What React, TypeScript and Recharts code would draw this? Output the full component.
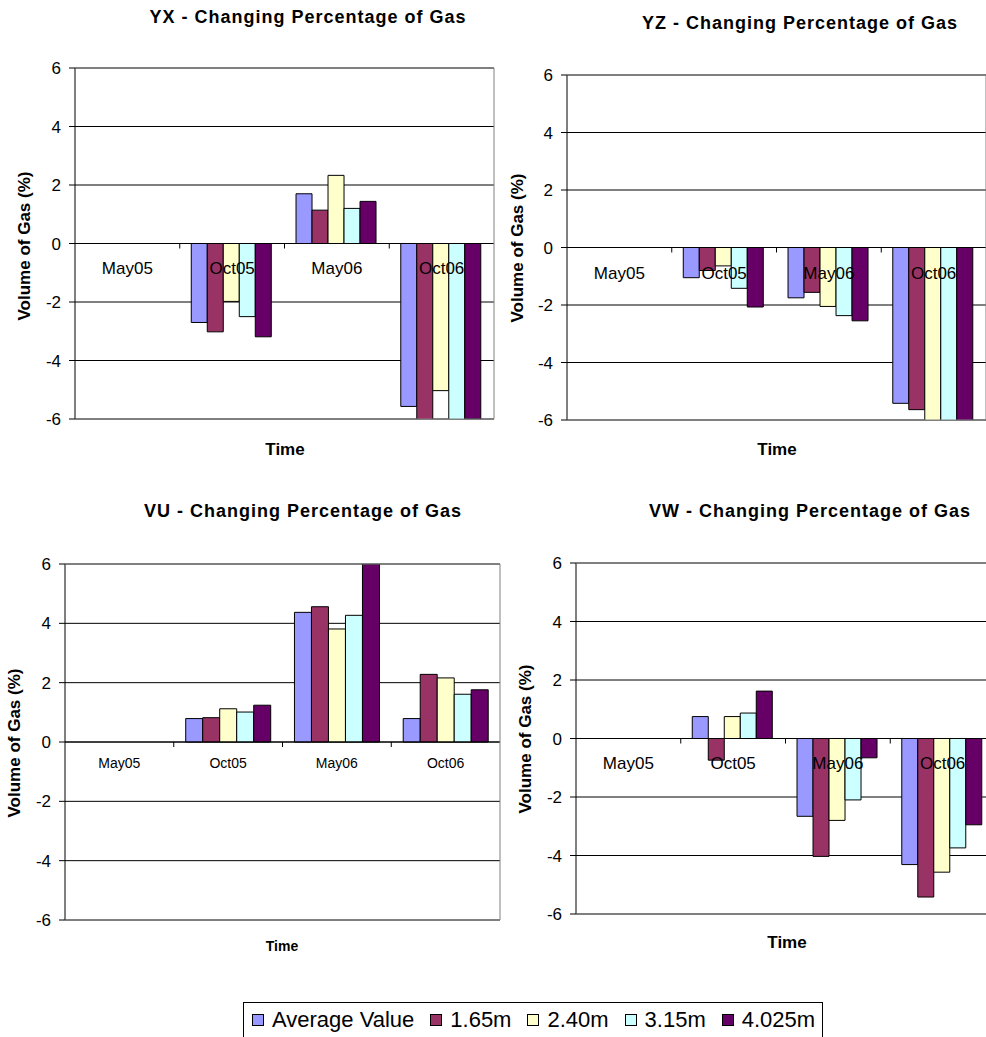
import React from 'react';
import { BarChart, Bar, XAxis, YAxis, CartesianGrid, ReferenceLine } from 'recharts';

const categories = ['May05', 'Oct05', 'May06', 'Oct06'];
const seriesNames = ['Average Value', '1.65m', '2.40m', '3.15m', '4.025m'];
const seriesKeys = ['avg', 'd165', 'd240', 'd315', 'd4025'];
const seriesColors = ['#9999FF', '#993366', '#FFFFCC', '#CCFFFF', '#660066'];
const yTicks = [-6, -4, -2, 0, 2, 4, 6];
const yDomain: [number, number] = [-6, 6];

// YX
const yxAverage = [null, -2.7, 1.7, -5.57];
const yx165 = [null, -3.02, 1.14, -6.2];
const yx240 = [null, -1.98, 2.33, -5.03];
const yx315 = [null, -2.5, 1.2, -6.2];
const yx4025 = [null, -3.19, 1.44, -6.0];

// YZ
const yzAverage = [null, -1.05, -1.75, -5.42];
const yz165 = [null, -0.8, -1.56, -5.64];
const yz240 = [null, -0.64, -2.05, -6.2];
const yz315 = [null, -1.42, -2.37, -6.2];
const yz4025 = [null, -2.07, -2.55, -6.2];

// VU
const vuAverage = [null, 0.79, 4.37, 0.79];
const vu165 = [null, 0.82, 4.56, 2.28];
const vu240 = [null, 1.12, 3.81, 2.16];
const vu315 = [null, 1.01, 4.27, 1.61];
const vu4025 = [null, 1.24, 6.0, 1.76];

// VW
const vwAverage = [null, 0.75, -2.66, -4.31];
const vw165 = [null, -0.74, -4.03, -5.42];
const vw240 = [null, 0.75, -2.8, -4.57];
const vw315 = [null, 0.87, -2.1, -3.74];
const vw4025 = [null, 1.62, -0.66, -2.95];

const FONT = '"Liberation Sans", Arial, Helvetica, sans-serif';

function buildData(series: (number | null)[][]) {
  return categories.map((c, i) => {
    const row: any = { category: c };
    seriesKeys.forEach((k, s) => {
      row[k] = series[s][i];
    });
    return row;
  });
}

type PanelProps = {
  title: string;
  series: (number | null)[][];
  plot: { l: number; t: number; r: number; b: number };
  titlePos: { x: number; y: number };
  yTitlePos: { x: number; y: number };
  timePos: { x: number; y: number };
  catOffset: number;
  catFont: number;
  timeFont: number;
};

const PAD = 15;
const YAXIS_W = 70;
const AX = 1; // thickness reserved by border axes

function CategoryTick(props: any) {
  const { x, payload, index, zeroY, band, offset, fontSize } = props;
  return (
    <g>
      <text
        x={x}
        y={zeroY + offset}
        textAnchor="middle"
        dominantBaseline="central"
        fontSize={fontSize}
        fill="#000"
        fontFamily={FONT}
      >
        {payload.value}
      </text>
      {index > 0 && (
        <line x1={x - band / 2} x2={x - band / 2} y1={zeroY} y2={zeroY + 5} stroke="#000" strokeWidth={1} />
      )}
    </g>
  );
}

function Panel(p: PanelProps) {
  const data = buildData(p.series);
  const chartLeft = p.plot.l - YAXIS_W;
  const chartTop = p.plot.t - PAD - AX;
  const width = p.plot.r + PAD + AX - chartLeft;
  const height = p.plot.b + PAD + AX - chartTop;
  const plotH = p.plot.b - p.plot.t;
  const plotW = p.plot.r - p.plot.l;
  const zeroY = PAD + AX + (plotH * (yDomain[1] - 0)) / (yDomain[1] - yDomain[0]);
  const band = plotW / categories.length;
  return (
    <>
      <div
        style={{
          position: 'absolute',
          left: p.titlePos.x,
          top: p.titlePos.y,
          transform: 'translate(-50%, -50%)',
          whiteSpace: 'nowrap',
          fontFamily: FONT,
          fontWeight: 'bold',
          fontSize: 18,
          letterSpacing: 1,
          color: '#000',
        }}
      >
        {p.title}
      </div>
      <div
        style={{
          position: 'absolute',
          left: p.yTitlePos.x,
          top: p.yTitlePos.y,
          transform: 'translate(-50%, -50%) rotate(-90deg)',
          whiteSpace: 'nowrap',
          fontFamily: FONT,
          fontWeight: 'bold',
          fontSize: 17,
          color: '#000',
        }}
      >
        Volume of Gas (%)
      </div>
      <div
        style={{
          position: 'absolute',
          left: p.timePos.x,
          top: p.timePos.y,
          transform: 'translate(-50%, -50%)',
          whiteSpace: 'nowrap',
          fontFamily: FONT,
          fontWeight: 'bold',
          fontSize: p.timeFont,
          color: '#000',
        }}
      >
        Time
      </div>
      <div style={{ position: 'absolute', left: chartLeft, top: chartTop, width, height }}>
        <BarChart
          width={width}
          height={height}
          data={data}
          margin={{ top: PAD, right: PAD, bottom: PAD, left: 0 }}
          barCategoryGap="11%"
          barGap={0}
        >
          <CartesianGrid vertical={false} stroke="#000" strokeWidth={1} />
          <YAxis
            domain={yDomain}
            ticks={yTicks}
            allowDataOverflow
            interval={0}
            width={YAXIS_W}
            axisLine={{ stroke: '#000' }}
            tickLine={{ stroke: '#000' }}
            tickSize={6}
            tickMargin={8}
            tick={{ fill: '#000', fontSize: 17, fontFamily: FONT }}
          />
          <YAxis
            yAxisId="right"
            orientation="right"
            domain={yDomain}
            width={AX}
            tick={false}
            tickLine={false}
            axisLine={{ stroke: '#808080' }}
          />
          <XAxis
            xAxisId="top"
            orientation="top"
            dataKey="category"
            height={AX}
            tick={false}
            tickLine={false}
            axisLine={{ stroke: '#808080' }}
          />
          {seriesKeys.map((k, i) => (
            <Bar
              key={k}
              dataKey={k}
              name={seriesNames[i]}
              fill={seriesColors[i]}
              stroke="#000"
              strokeWidth={1}
              isAnimationActive={false}
            />
          ))}
          <ReferenceLine y={0} stroke="#000" strokeWidth={1} />
          <XAxis
            dataKey="category"
            height={AX}
            axisLine={{ stroke: '#808080' }}
            tickLine={false}
            interval={0}
            tick={(tp: any) => (
              <CategoryTick {...tp} zeroY={zeroY} band={band} offset={p.catOffset} fontSize={p.catFont} />
            )}
          />
        </BarChart>
      </div>
    </>
  );
}

function Legend() {
  return (
    <div
      style={{
        position: 'absolute',
        left: 243,
        top: 1002,
        width: 580,
        height: 40,
        border: '1px solid #000',
        boxSizing: 'border-box',
        display: 'flex',
        alignItems: 'flex-start',
        paddingLeft: 8,
        paddingTop: 5,
        gap: 16,
        fontFamily: FONT,
        fontSize: 22,
        color: '#000',
        whiteSpace: 'nowrap',
      }}
    >
      {seriesNames.map((n, i) => (
        <div key={n} style={{ display: 'flex', alignItems: 'center' }}>
          <span
            style={{
              display: 'inline-block',
              width: 10,
              height: 10,
              background: seriesColors[i],
              border: '1px solid #000',
              marginRight: 8,
            }}
          />
          <span style={{ lineHeight: '24px' }}>{n}</span>
        </div>
      ))}
    </div>
  );
}

export default function App() {
  return (
    <div
      style={{
        position: 'absolute',
        left: 0,
        top: 0,
        width: 986,
        height: 1037,
        overflow: 'hidden',
        background: '#fff',
        fontFamily: FONT,
      }}
    >
      <Panel
        title="YX - Changing Percentage of Gas"
        series={[yxAverage, yx165, yx240, yx315, yx4025]}
        plot={{ l: 75, t: 68, r: 494, b: 419 }}
        titlePos={{ x: 308, y: 17 }}
        yTitlePos={{ x: 25, y: 246 }}
        timePos={{ x: 285, y: 450 }}
        catOffset={25}
        catFont={17}
        timeFont={17}
      />
      <Panel
        title="YZ - Changing Percentage of Gas"
        series={[yzAverage, yz165, yz240, yz315, yz4025]}
        plot={{ l: 567, t: 75, r: 986, b: 420 }}
        titlePos={{ x: 800, y: 23 }}
        yTitlePos={{ x: 518, y: 248 }}
        timePos={{ x: 777, y: 450 }}
        catOffset={26}
        catFont={17}
        timeFont={17}
      />
      <Panel
        title="VU - Changing Percentage of Gas"
        series={[vuAverage, vu165, vu240, vu315, vu4025]}
        plot={{ l: 65, t: 564, r: 500, b: 920 }}
        titlePos={{ x: 303, y: 511 }}
        yTitlePos={{ x: 15, y: 743 }}
        timePos={{ x: 282, y: 946 }}
        catOffset={21}
        catFont={14}
        timeFont={14}
      />
      <Panel
        title="VW - Changing Percentage of Gas"
        series={[vwAverage, vw165, vw240, vw315, vw4025]}
        plot={{ l: 576, t: 563, r: 995, b: 914 }}
        titlePos={{ x: 810, y: 511 }}
        yTitlePos={{ x: 526, y: 739 }}
        timePos={{ x: 787, y: 943 }}
        catOffset={25}
        catFont={17}
        timeFont={17}
      />
      <Legend />
    </div>
  );
}
